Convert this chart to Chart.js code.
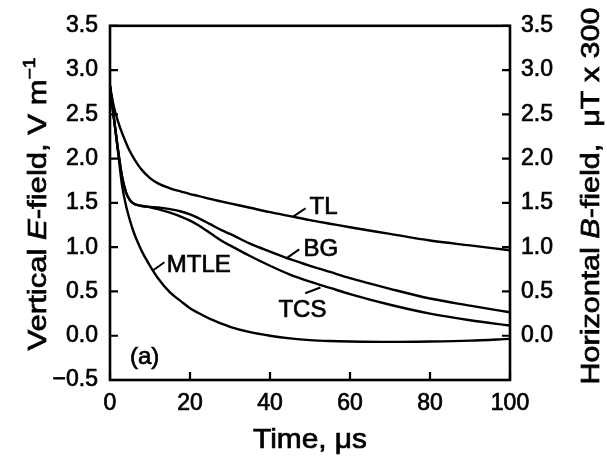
<!DOCTYPE html>
<html>
<head>
<meta charset="utf-8">
<script src="https://cdn.jsdelivr.net/npm/chart.js@4"></script>
<style>
html,body{margin:0;padding:0;background:#fff;}
#c{display:block;}
</style>
</head>
<body>
<canvas id="c" width="607" height="457"></canvas>
<script>
// ---- data ----
const timeUs = [0,1,2,3,4,5,6,7,8,10,12,15,18,20,22,25,28,30,35,40,45,50,55,60,70,80,90,100];
const TL   = [2.82,2.58,2.42,2.29,2.18,2.08,2.00,1.93,1.87,1.78,1.72,1.665,1.625,1.60,1.58,1.545,1.515,1.495,1.445,1.395,1.35,1.305,1.265,1.225,1.15,1.075,1.02,0.965];
const BG   = [2.82,2.45,2.10,1.80,1.62,1.53,1.49,1.475,1.465,1.455,1.45,1.43,1.40,1.37,1.33,1.26,1.19,1.15,1.04,0.95,0.865,0.79,0.72,0.65,0.53,0.42,0.34,0.265];
const TCS  = [2.82,2.45,2.10,1.80,1.62,1.53,1.49,1.475,1.465,1.45,1.43,1.39,1.34,1.30,1.25,1.16,1.07,1.02,0.90,0.79,0.69,0.61,0.54,0.47,0.35,0.25,0.175,0.115];
const MTLE = [2.82,2.45,2.08,1.70,1.47,1.30,1.16,1.05,0.95,0.79,0.65,0.49,0.38,0.31,0.26,0.19,0.135,0.10,0.04,0.00,-0.03,-0.05,-0.06,-0.065,-0.07,-0.065,-0.055,-0.035];

const xTicks = [0,20,40,60,80,100];
const yTicks = [-0.5,0.0,0.5,1.0,1.5,2.0,2.5,3.0,3.5];

// curve labels: text, left time, centre value
const labelText = ['TL','BG','MTLE','TCS','(a)'];
const labelT    = [49.9,48.4,14.2,42.1,5.0];
const labelV    = [1.45,0.975,0.79,0.285,-0.245];
// leader lines: from (t0,v0) to (t1,v1)
const leadT0 = [45.6,44.0,10.8,52.6];
const leadV0 = [1.34,0.87,0.74,0.545];
const leadT1 = [48.9,47.3,13.6,48.8];
const leadV1 = [1.44,0.975,0.83,0.48];

const FONT = '"Liberation Sans", Arial, Helvetica, sans-serif';
const STROKE = 0.7;
const fmt = v => v.toFixed(1).replace('-', '\u2212');

function drawRich(ctx, parts, size, c, target, angle) {
  ctx.save();
  ctx.translate(c.x, c.y);
  ctx.rotate(angle);
  let w = 0;
  const widths = parts.map(p => {
    const s = p.sup ? size * 0.62 : size;
    ctx.font = (p.italic ? 'italic ' : '') + s + 'px ' + FONT;
    const m = ctx.measureText(p.text).width;
    w += m;
    return m;
  });
  ctx.scale(target / w, 1);
  let xx = -w / 2;
  ctx.fillStyle = '#000';
  ctx.strokeStyle = '#000';
  ctx.lineWidth = STROKE;
  ctx.textBaseline = 'alphabetic';
  ctx.textAlign = 'left';
  parts.forEach((p, i) => {
    const s = p.sup ? size * 0.62 : size;
    ctx.font = (p.italic ? 'italic ' : '') + s + 'px ' + FONT;
    const yy = p.sup ? -size * 0.42 : 0;
    ctx.fillText(p.text, xx, yy);
    ctx.strokeText(p.text, xx, yy);
    xx += widths[i];
  });
  ctx.restore();
}

const deco = {
  id: 'deco',
  afterDatasetsDraw(chart) {
    const { ctx, chartArea: a, scales } = chart;
    const x = scales.x, y = scales.y;
    ctx.save();
    ctx.strokeStyle = '#000';
    ctx.lineWidth = 2.6;
    ctx.strokeRect(a.left, a.top, a.right - a.left, a.bottom - a.top);
    const TK = 8;
    ctx.lineWidth = 2.2;
    ctx.beginPath();
    yTicks.forEach(v => {
      const p = y.getPixelForValue(v);
      ctx.moveTo(a.left, p); ctx.lineTo(a.left + TK, p);
      ctx.moveTo(a.right, p); ctx.lineTo(a.right - TK, p);
    });
    xTicks.forEach(t => {
      const p = x.getPixelForValue(t);
      ctx.moveTo(p, a.bottom); ctx.lineTo(p, a.bottom - TK);
    });
    ctx.stroke();
    ctx.lineWidth = 2;
    ctx.beginPath();
    leadT0.forEach((t, i) => {
      ctx.moveTo(x.getPixelForValue(t), y.getPixelForValue(leadV0[i]));
      ctx.lineTo(x.getPixelForValue(leadT1[i]), y.getPixelForValue(leadV1[i]));
    });
    ctx.stroke();
    ctx.fillStyle = '#000';
    ctx.lineWidth = STROKE;
    ctx.font = '24px ' + FONT;
    ctx.textAlign = 'left';
    ctx.textBaseline = 'middle';
    labelText.forEach((s, i) => {
      const px = x.getPixelForValue(labelT[i]), py = y.getPixelForValue(labelV[i]);
      ctx.fillText(s, px, py);
      ctx.strokeText(s, px, py);
    });
    ctx.restore();

    drawRich(ctx, [
      {text: 'Vertical '}, {text: 'E', italic: true}, {text: '-field, V m'}, {text: '\u22121', sup: true}
    ], 26, {x: 46, y: 204}, 293, -Math.PI / 2);
    drawRich(ctx, [
      {text: 'Horizontal '}, {text: 'B', italic: true}, {text: '-field,  \u03bcT x 300'}
    ], 26, {x: 599, y: 196}, 377, -Math.PI / 2);
    drawRich(ctx, [
      {text: 'Time, \u03bcs'}
    ], 27, {x: 310, y: 448}, 114, 0);
  }
};

const mk = (arr) => timeUs.map((t, i) => ({x: t, y: arr[i]}));
const ds = (label, arr) => ({
  label, data: mk(arr), borderColor: '#000', borderWidth: 2.4,
  pointRadius: 0, fill: false, cubicInterpolationMode: 'monotone', yAxisID: 'y'
});
const tickFont = { family: FONT, size: 23 };

new Chart(document.getElementById('c'), {
  type: 'line',
  data: { datasets: [ds('TL', TL), ds('BG', BG), ds('TCS', TCS), ds('MTLE', MTLE)] },
  options: {
    responsive: false,
    animation: false,
    devicePixelRatio: 1,
    layout: { padding: { top: 16, left: 0, right: 0, bottom: 0 } },
    plugins: { legend: { display: false }, tooltip: { enabled: false }, title: { display: false } },
    scales: {
      x: {
        type: 'linear', position: 'bottom', min: 0, max: 100,
        afterBuildTicks: s => { s.ticks = xTicks.map(v => ({value: v})); },
        afterFit: s => { s.height = 77; },
        grid: { display: false, drawTicks: false },
        border: { display: false },
        ticks: { color: '#000', font: tickFont, padding: 10, maxRotation: 0, autoSkip: false,
                 textStrokeColor: '#000', textStrokeWidth: STROKE }
      },
      y: {
        type: 'linear', position: 'left', min: -0.5, max: 3.5,
        afterBuildTicks: s => { s.ticks = yTicks.map(v => ({value: v})); },
        afterFit: s => { s.width = 110; },
        grid: { display: false, drawTicks: false },
        border: { display: false },
        ticks: { color: '#000', font: tickFont, padding: 12, callback: v => fmt(v), autoSkip: false,
                 textStrokeColor: '#000', textStrokeWidth: STROKE }
      },
      y2: {
        type: 'linear', position: 'right', min: -0.5, max: 3.5,
        afterBuildTicks: s => { s.ticks = yTicks.map(v => ({value: v})); },
        afterFit: s => { s.width = 97; },
        grid: { display: false, drawTicks: false },
        border: { display: false },
        ticks: { color: '#000', font: tickFont, padding: 11, callback: v => (v < 0 ? '' : fmt(v)), autoSkip: false,
                 textStrokeColor: '#000', textStrokeWidth: STROKE }
      }
    }
  },
  plugins: [deco]
});
</script>
</body>
</html>
